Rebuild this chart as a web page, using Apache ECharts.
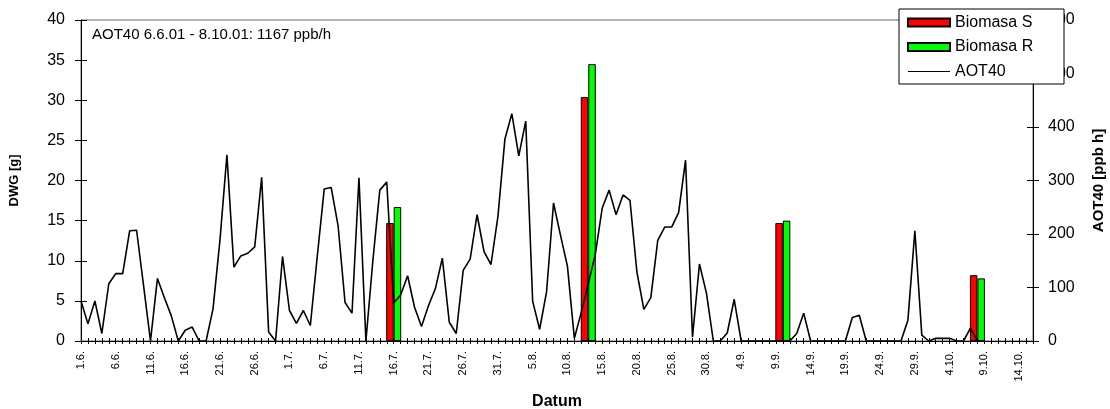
<!DOCTYPE html>
<html>
<head>
<meta charset="utf-8">
<script src="https://cdn.jsdelivr.net/npm/echarts@6/dist/echarts.min.js"></script>
<style>
html,body{margin:0;padding:0;background:#fff;}
#chart{width:1110px;height:409px;}
</style>
</head>
<body>
<div id="chart"></div>
<script>
// Categories: daily dates 1.6. - 16.10.
const categories = [
"1.6.","2.6.","3.6.","4.6.","5.6.","6.6.","7.6.","8.6.","9.6.","10.6.","11.6.","12.6.","13.6.","14.6.","15.6.","16.6.","17.6.","18.6.","19.6.","20.6.","21.6.","22.6.","23.6.","24.6.","25.6.","26.6.","27.6.","28.6.","29.6.","30.6.",
"1.7.","2.7.","3.7.","4.7.","5.7.","6.7.","7.7.","8.7.","9.7.","10.7.","11.7.","12.7.","13.7.","14.7.","15.7.","16.7.","17.7.","18.7.","19.7.","20.7.","21.7.","22.7.","23.7.","24.7.","25.7.","26.7.","27.7.","28.7.","29.7.","30.7.","31.7.",
"1.8.","2.8.","3.8.","4.8.","5.8.","6.8.","7.8.","8.8.","9.8.","10.8.","11.8.","12.8.","13.8.","14.8.","15.8.","16.8.","17.8.","18.8.","19.8.","20.8.","21.8.","22.8.","23.8.","24.8.","25.8.","26.8.","27.8.","28.8.","29.8.","30.8.","31.8.",
"1.9.","2.9.","3.9.","4.9.","5.9.","6.9.","7.9.","8.9.","9.9.","10.9.","11.9.","12.9.","13.9.","14.9.","15.9.","16.9.","17.9.","18.9.","19.9.","20.9.","21.9.","22.9.","23.9.","24.9.","25.9.","26.9.","27.9.","28.9.","29.9.","30.9.",
"1.10.","2.10.","3.10.","4.10.","5.10.","6.10.","7.10.","8.10.","9.10.","10.10.","11.10.","12.10.","13.10.","14.10.","15.10.","16.10."
];

// AOT40 daily values [ppb h] (right axis), 1.6. - 8.10.
const aot40 = [
75,32,75,14,107,126,126,206,207,104,
0,117,81,47,0,20,26,0,0,60,
189,348,138,159,164,176,306,17,0,158,
57,33,57,29,158,284,287,215,72,52,
305,0,150,282,297,71,86,122,63,27,
66,98,155,35,14,132,153,236,167,143,
233,377,425,346,411,74,22,92,258,198,
140,5,54,107,161,248,282,236,273,263,
129,59,81,188,213,213,240,338,7,144,
90,0,0,15,78,0,0,0,0,0,
0,0,0,14,52,0,0,0,0,0,
0,44,48,0,0,0,0,0,0,39,
206,11,0,5,5,5,0,0,24,0
];

// Biomass [g] (left axis)
const biomasaS = [["16.7.",14.7],["13.8.",30.4],["10.9.",14.7],["8.10.",8.2]];
const biomasaR = [["16.7.",16.7],["13.8.",34.5],["10.9.",15.0],["8.10.",7.8]];

const seriesNames = ["Biomasa S","Biomasa R","AOT40"];
const noteText = "AOT40 6.6.01 - 8.10.01: 1167 ppb/h";

const FONT = '"Liberation Sans", Arial, sans-serif';
const chart = echarts.init(document.getElementById('chart'), null, {renderer:'canvas'});

// legend icon for the line: a 1px horizontal stroke inside a 42x8 box
const lineIcon = 'path://M0,0H0.01V0.01H0ZM0,3.4H42V4.6H0ZM41.99,7.99H42V8H41.99Z';

chart.setOption({
  animation:false,
  backgroundColor:'#fff',
  textStyle:{fontFamily:FONT,color:'#000'},
  grid:{left:81,right:77,top:20,bottom:68,show:true,borderColor:'#666',borderWidth:1,
        backgroundColor:'transparent',containLabel:false,outerBoundsMode:'none'},
  legend:{
    orient:'vertical', right:46, top:9,
    backgroundColor:'#fff', borderColor:'#000', borderWidth:1,
    padding:[5,4,4,8], itemGap:7.5, itemWidth:42, itemHeight:8,
    selectedMode:false, z:10,
    textStyle:{fontSize:16,width:105,lineHeight:17,color:'#000',fontFamily:FONT},
    data:[{name:seriesNames[0],icon:'rect'},{name:seriesNames[1],icon:'rect'},
          {name:seriesNames[2],icon:lineIcon,itemStyle:{color:'#000',borderWidth:0}}]
  },
  graphic:[{type:'text',left:92,top:27,z:5,style:{text:noteText,fontSize:15,fontFamily:FONT,fill:'#000'}}],
  xAxis:[
    {type:'category',data:categories,boundaryGap:false,position:'bottom',
     axisLine:{show:true,lineStyle:{color:'#000',width:1}},
     axisTick:{show:true,interval:0,length:3,lineStyle:{color:'#000',width:1}},
     axisLabel:{interval:4,rotate:90,fontSize:11,color:'#000',margin:10,fontFamily:FONT},
     splitLine:{show:false},
     name:'Datum',nameLocation:'middle',nameGap:53,
     nameTextStyle:{fontWeight:'bold',fontSize:16,color:'#000',fontFamily:FONT}},
    {type:'category',data:categories,boundaryGap:false,position:'bottom',
     axisLine:{show:false},
     axisTick:{show:true,inside:true,interval:0,length:3,lineStyle:{color:'#000',width:1}},
     axisLabel:{show:false},splitLine:{show:false}}
  ],
  yAxis:[
    {type:'value',min:0,max:40,interval:5,position:'left',
     axisLine:{show:true,lineStyle:{color:'#000',width:1}},
     axisTick:{show:true,length:6,lineStyle:{color:'#000',width:1}},
     axisLabel:{fontSize:16,color:'#000',margin:16,fontFamily:FONT},
     splitLine:{show:false},
     name:'DWG [g]',nameLocation:'middle',nameRotate:90,nameGap:60,
     nameTextStyle:{fontWeight:'bold',fontSize:13,color:'#000',fontFamily:FONT}},
    {type:'value',min:0,max:600,interval:100,position:'right',
     axisLine:{show:true,lineStyle:{color:'#000',width:1}},
     axisTick:{show:true,length:6,lineStyle:{color:'#000',width:1}},
     axisLabel:{fontSize:16,color:'#000',margin:15,fontFamily:FONT},
     splitLine:{show:false},
     name:'AOT40 [ppb h]',nameLocation:'middle',nameRotate:90,nameGap:58,
     nameTextStyle:{fontWeight:'bold',fontSize:15,color:'#000',fontFamily:FONT}},
    {type:'value',min:0,max:40,interval:5,position:'left',
     axisLine:{show:false},
     axisTick:{show:true,inside:true,length:6,lineStyle:{color:'#000',width:1}},
     axisLabel:{show:false},splitLine:{show:false}},
    {type:'value',min:0,max:600,interval:100,position:'right',
     axisLine:{show:false},
     axisTick:{show:true,inside:true,length:6,lineStyle:{color:'#000',width:1}},
     axisLabel:{show:false},splitLine:{show:false}}
  ],
  series:[
    {name:seriesNames[0],type:'bar',xAxisIndex:0,yAxisIndex:0,data:biomasaS,
     barWidth:7.5,barGap:'0%',itemStyle:{color:'#ff0000',borderColor:'#000',borderWidth:1},z:2},
    {name:seriesNames[1],type:'bar',xAxisIndex:0,yAxisIndex:0,data:biomasaR,
     barWidth:7.5,barGap:'0%',itemStyle:{color:'#00ff00',borderColor:'#000',borderWidth:1},z:2},
    {name:seriesNames[2],type:'line',xAxisIndex:0,yAxisIndex:1,data:aot40,
     symbol:'none',showSymbol:false,lineStyle:{color:'#000',width:1.6},itemStyle:{color:'#000'},z:3}
  ]
});
</script>
</body>
</html>
